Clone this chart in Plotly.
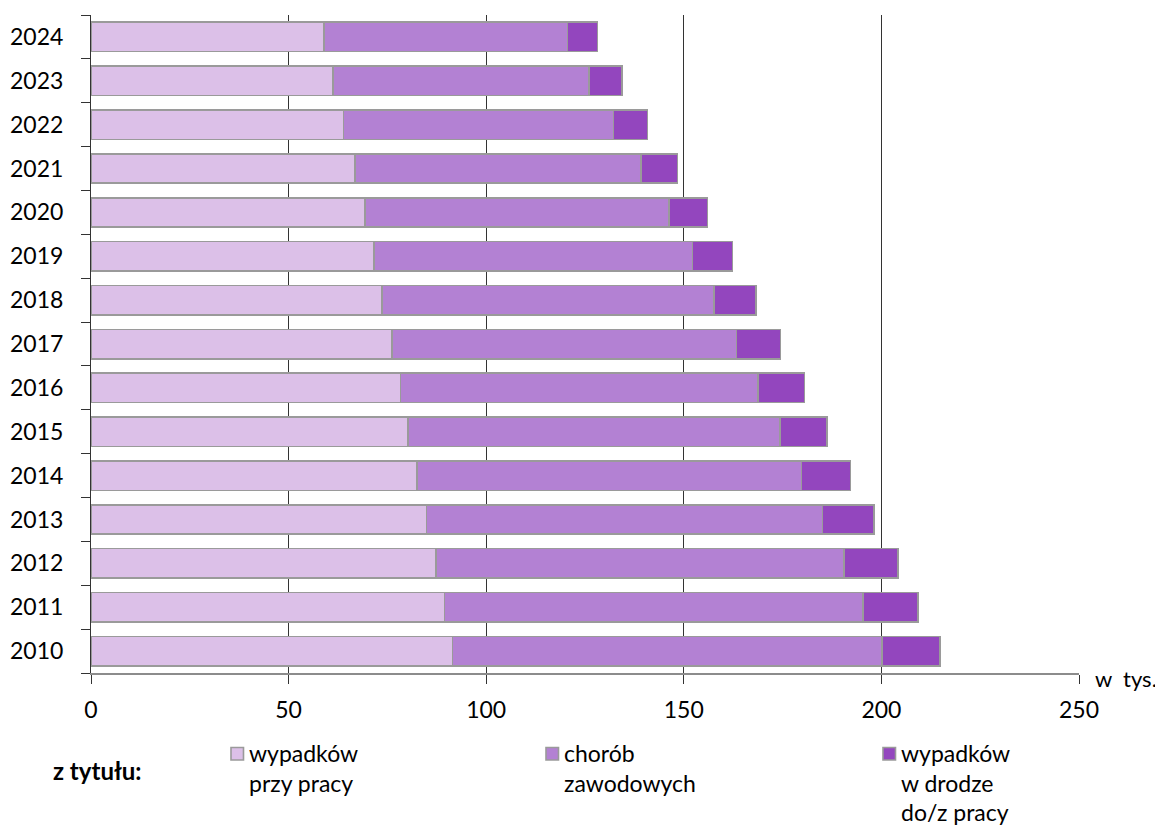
import plotly.graph_objects as go

years = ["2010", "2011", "2012", "2013", "2014", "2015", "2016", "2017",
         "2018", "2019", "2020", "2021", "2022", "2023", "2024"]
przy_pracy = [91.5, 89.4, 87.3, 84.9, 82.5, 80.2, 78.3, 76.2, 73.7, 71.6, 69.4, 66.8, 63.9, 61.2, 58.9]
chorob_zawodowych = [108.6, 105.9, 103.2, 100.2, 97.3, 94.2, 90.5, 87.1, 84.0, 80.6, 76.9, 72.3, 68.3, 64.8, 61.7]
w_drodze = [14.8, 14.0, 13.7, 13.1, 12.4, 11.9, 11.7, 11.2, 10.6, 10.1, 9.7, 9.3, 8.6, 8.3, 7.6]

series_names = ["wypadków przy pracy", "chorób zawodowych", "wypadków w drodze do/z pracy"]
legend_lines = [["wypadków", "przy pracy"], ["chorób", "zawodowych"], ["wypadków", "w drodze", "do/z pracy"]]
colors = ["#DCC0E8", "#B381D3", "#9346BE"]
x_ticks = [0, 50, 100, 150, 200, 250]

FONT = "Lato"
OFF = 8  # page body margin in the browser
W, H = 1163 - OFF, 825 - OFF
ML, MR, MT, MB = 91 - OFF, 84, 15 - OFF, 152
PW, PH = W - ML - MR, H - MT - MB


def px_x(px):
    return (px - OFF - ML) / PW


def px_y(py):
    return (H - MB - (py - OFF)) / PH


fig = go.Figure()
for name, vals, col in zip(series_names, [przy_pracy, chorob_zawodowych, w_drodze], colors):
    fig.add_trace(go.Bar(
        y=years, x=vals, name=name, orientation="h",
        marker=dict(color=col, line=dict(color="#9a9a9a", width=1.6)),
        showlegend=False,
    ))

# manual legend matching the reference layout
sq_left = [231, 546, 883]
annotations = []
shapes = []
for i, (lines, col) in enumerate(zip(legend_lines, colors)):
    x0 = sq_left[i]
    shapes.append(dict(type="rect", xref="paper", yref="paper",
                       x0=px_x(x0), x1=px_x(x0 + 12.5), y0=px_y(760), y1=px_y(747.5),
                       fillcolor=col, line=dict(color="#9a9a9a", width=1.6)))
    for j, t in enumerate(lines):
        annotations.append(dict(text=t, xref="paper", yref="paper",
                                x=px_x(x0 + 16), y=px_y(753 + 29.5 * j),
                                xanchor="left", yanchor="middle", showarrow=False,
                                font=dict(family=FONT, size=23, color="#000")))

annotations.append(dict(text="<b>z tytułu:</b>", xref="paper", yref="paper",
                        x=px_x(51), y=px_y(770), xanchor="left", yanchor="middle",
                        showarrow=False, font=dict(family=FONT, size=24, color="#000")))
annotations.append(dict(text="w&nbsp;&nbsp;tys.", xref="paper", yref="paper",
                        x=px_x(1093), y=px_y(678), xanchor="left", yanchor="middle",
                        showarrow=False, font=dict(family=FONT, size=22, color="#000")))

fig.update_layout(
    width=W, height=H,
    margin=dict(l=ML, r=MR, t=MT, b=MB, pad=0, autoexpand=False),
    barmode="stack", bargap=0.33,
    plot_bgcolor="white", paper_bgcolor="white",
    font=dict(family=FONT, size=23, color="#000"),
    annotations=annotations, shapes=shapes,
    xaxis=dict(range=[0, 250], tickvals=x_ticks, showgrid=True, gridcolor="#333333",
               gridwidth=1, showline=True, linecolor="#8c8c8c", linewidth=2,
               ticks="outside", ticklen=9, tickcolor="#333333", tickwidth=1,
               zeroline=False, ticklabelstandoff=6, automargin=False,
               tickfont=dict(family=FONT, size=23, color="#000")),
    yaxis=dict(type="category", showline=True, linecolor="#333333", linewidth=1,
               ticks="outside", tickson="boundaries", ticklen=9, tickcolor="#333333",
               showgrid=False, zeroline=False, ticklabelstandoff=22, automargin=False,
               tickfont=dict(family=FONT, size=23, color="#000")),
)

fig.write_html("out.html")
